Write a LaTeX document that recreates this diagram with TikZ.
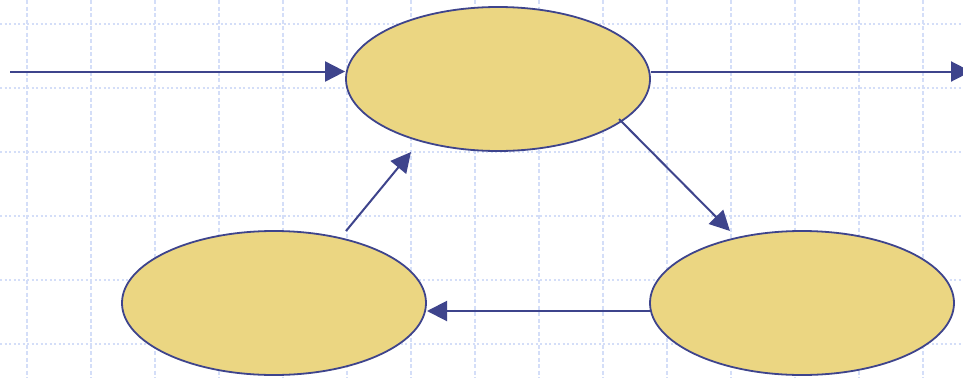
\documentclass[tikz,border=0pt]{standalone}
\usetikzlibrary{arrows.meta,shapes.geometric}
\definecolor{gridc}{RGB}{212,222,248}
\definecolor{linec}{RGB}{62,68,140}
\definecolor{fillc}{RGB}{235,214,130}
\begin{document}
\begin{tikzpicture}[x=1pt,y=-1pt,
  gridh/.style={gridc,line width=1.5pt,dash pattern=on 2pt off 2.5pt},
  gridv/.style={gridc,line width=1.5pt,dash pattern=on 4pt off 2.5pt},
  state/.style={ellipse,draw=linec,fill=fillc,line width=1.8pt,minimum width=304pt,minimum height=144pt,inner sep=0pt},
  conn/.style={linec,line width=2pt,-{Triangle[length=20pt,width=20pt]}}]
\useasboundingbox (0,0) rectangle (963,378);
\fill[white] (0,0) rectangle (963,378);
\foreach \y in {24,88,152,216,280,344} \draw[gridh] (0,\y) -- (963,\y);
\foreach \x in {27,91,...,923} \draw[gridv] (\x,0) -- (\x,378);
\node[state] (top) at (498,79) {};
\node[state] (bl) at (274,303) {};
\node[state] (br) at (802,303) {};
\coordinate (in) at (10,71.5);
\coordinate (out) at (971,71.5);
\coordinate (d1s) at (619,119);
\coordinate (d1e) at (730,231);
\coordinate (d2s) at (346,231);
\coordinate (d2e) at (411,152);
\coordinate (b1s) at (650,311);
\coordinate (b1e) at (427,311);
\draw[conn] (in) -- (in -| top.west);
\draw[conn] (top.east |- out) -- (out);
\draw[conn] (d1s) -- (d1e);
\draw[conn] (b1s) -- (b1e);
\draw[conn] (d2s) -- (d2e);
\end{tikzpicture}
\end{document}
